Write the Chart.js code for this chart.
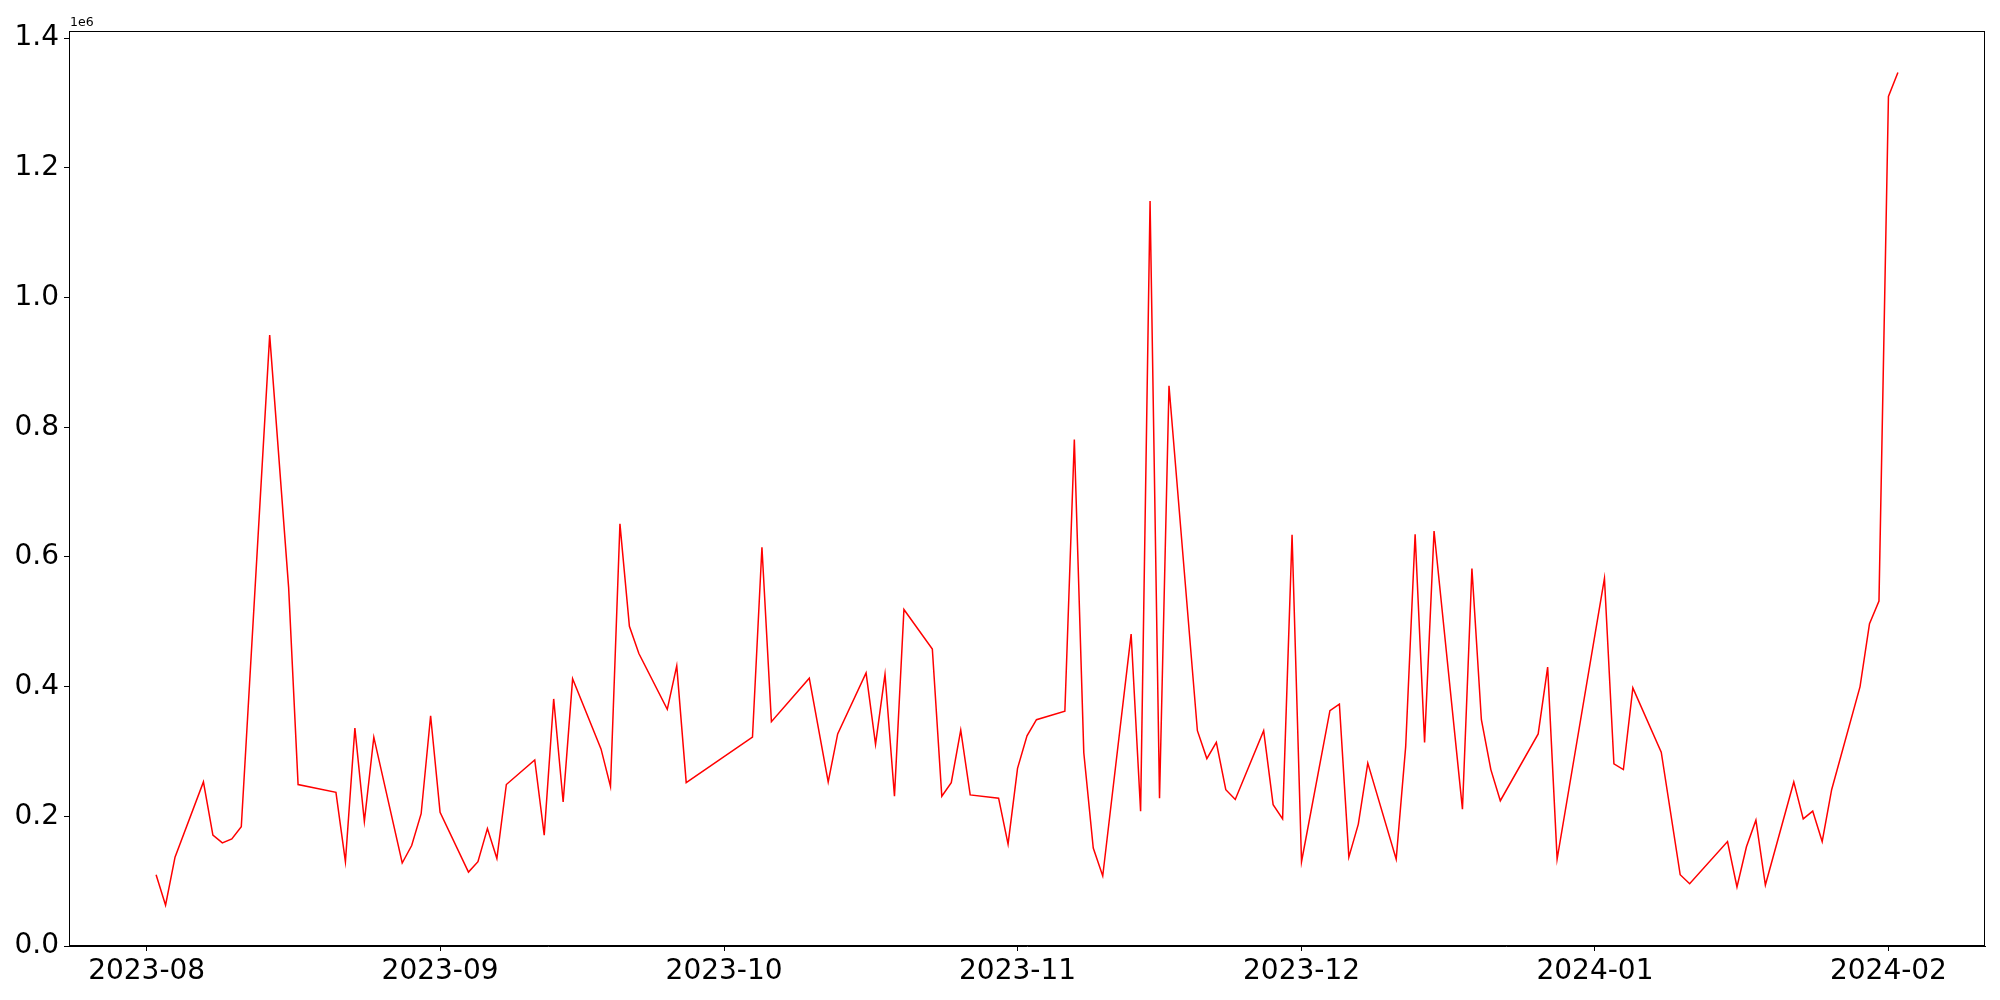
<!DOCTYPE html>
<html>
<head>
<meta charset="utf-8">
<script src="https://cdn.jsdelivr.net/npm/chart.js@4/dist/chart.umd.min.js"></script>
<style>
  html, body { margin: 0; padding: 0; background: #fff; }
</style>
</head>
<body>
<canvas id="myChart" width="2000" height="1000"></canvas>
<script>
// trading days and daily values (raw units, axis shows them x1e6)
var dates = [
  '2023-08-02','2023-08-03','2023-08-04','2023-08-07','2023-08-08','2023-08-09','2023-08-10','2023-08-11',
  '2023-08-14','2023-08-16','2023-08-17','2023-08-21','2023-08-22','2023-08-23','2023-08-24','2023-08-25',
  '2023-08-28','2023-08-29','2023-08-30','2023-08-31',
  '2023-09-01','2023-09-04','2023-09-05','2023-09-06','2023-09-07','2023-09-08','2023-09-11','2023-09-12',
  '2023-09-13','2023-09-14','2023-09-15','2023-09-18','2023-09-19','2023-09-20','2023-09-21','2023-09-22',
  '2023-09-25','2023-09-26','2023-09-27',
  '2023-10-04','2023-10-05','2023-10-06','2023-10-10','2023-10-12','2023-10-13','2023-10-16','2023-10-17',
  '2023-10-18','2023-10-19','2023-10-20','2023-10-23','2023-10-24','2023-10-25','2023-10-26','2023-10-27',
  '2023-10-30','2023-10-31',
  '2023-11-01','2023-11-02','2023-11-03','2023-11-06','2023-11-07','2023-11-08','2023-11-09','2023-11-10',
  '2023-11-13','2023-11-14','2023-11-15','2023-11-16','2023-11-17','2023-11-20','2023-11-21','2023-11-22',
  '2023-11-23','2023-11-24','2023-11-27','2023-11-28','2023-11-29','2023-11-30',
  '2023-12-01','2023-12-04','2023-12-05','2023-12-06','2023-12-07','2023-12-08','2023-12-11','2023-12-12',
  '2023-12-13','2023-12-14','2023-12-15','2023-12-18','2023-12-19','2023-12-20','2023-12-21','2023-12-22',
  '2023-12-26','2023-12-27','2023-12-28',
  '2024-01-02','2024-01-03','2024-01-04','2024-01-05','2024-01-08','2024-01-10','2024-01-11','2024-01-15',
  '2024-01-16','2024-01-17','2024-01-18','2024-01-19','2024-01-22','2024-01-23','2024-01-24','2024-01-25',
  '2024-01-26','2024-01-29','2024-01-30','2024-01-31',
  '2024-02-01','2024-02-02'
];
var values = [
  110000, 63000, 137000, 253000, 171000, 159000, 165000, 184000,
  942000, 553000, 249000, 237000, 130000, 336000, 192000, 322000,
  128000, 155000, 204000, 355000,
  206000, 114000, 130000, 181000, 135000, 249000, 287000, 171000,
  381000, 222000, 412000, 304000, 246000, 651000, 493000, 451000,
  365000, 432000, 252000,
  322000, 615000, 346000, 413000, 253000, 327000, 421000, 311000,
  419000, 231000, 519000, 458000, 231000, 252000, 333000, 233000,
  228000, 157000,
  274000, 324000, 349000, 362000, 781000, 298000, 151000, 108000,
  481000, 208000, 1149000, 228000, 864000, 332000, 289000, 314000,
  241000, 226000, 332000, 218000, 196000, 634000,
  130000, 363000, 373000, 137000, 188000, 282000, 134000, 307000,
  635000, 314000, 640000, 211000, 582000, 349000, 272000, 224000,
  327000, 430000, 134000,
  567000, 281000, 272000, 398000, 299000, 110000, 96000, 161000,
  91000, 153000, 194000, 94000, 253000, 196000, 208000, 161000,
  241000, 400000, 497000, 532000,
  1310000, 1347000
];
var monthTicks = ['2023-08-01','2023-09-01','2023-10-01','2023-11-01','2023-12-01','2024-01-01','2024-02-01'];
var monthLabels = ['2023-08','2023-09','2023-10','2023-11','2023-12','2024-01','2024-02'];
var yTicks = [0, 200000, 400000, 600000, 800000, 1000000, 1200000, 1400000];

var origin = Date.UTC(2023, 7, 1);
function dayNum(s) {
  var p = s.split('-');
  return (Date.UTC(+p[0], +p[1] - 1, +p[2]) - origin) / 86400000;
}

var points = dates.map(function (d, i) { return { x: dayNum(d), y: values[i] }; });
var tickFont = { family: 'DejaVu Sans', size: 28 };

// full box around the plot + the "1e6" offset text
var frame = {
  id: 'frame',
  afterDraw: function (chart) {
    var a = chart.chartArea, ctx = chart.ctx;
    ctx.save();
    ctx.strokeStyle = '#000';
    ctx.lineWidth = 1;
    ctx.strokeRect(Math.round(a.left) + 0.5, Math.round(a.top) + 0.5,
                   Math.round(a.right - a.left) - 1, Math.round(a.bottom - a.top) - 1);
    ctx.fillStyle = '#000';
    ctx.font = '12.5px "DejaVu Sans"';
    ctx.textAlign = 'left';
    ctx.textBaseline = 'alphabetic';
    ctx.fillText('1e6', a.left + 1, a.top - 5);
    ctx.restore();
  }
};

var ctx = document.getElementById('myChart');
var myChart = new Chart(ctx, {
  type: 'line',
  data: {
    datasets: [{
      data: points,
      fill: false,
      tension: 0,
      borderColor: '#ff0000',
      borderWidth: 1.5,
      pointRadius: 0
    }]
  },
  options: {
    animation: false,
    responsive: false,
    layout: { padding: { top: 31, right: 15, left: 0, bottom: 0 } },
    plugins: {
      legend: { display: false },
      tooltip: { enabled: false }
    },
    scales: {
      x: {
        type: 'linear',
        min: -8.2,
        max: 194.2,
        afterBuildTicks: function (scale) {
          scale.ticks = monthTicks.map(function (d) { return { value: dayNum(d) }; });
        },
        afterFit: function (scale) { scale.height = 54; },
        ticks: {
          autoSkip: false,
          maxRotation: 0,
          padding: 4,
          color: '#000',
          font: tickFont,
          callback: function (v, i) { return monthLabels[i]; }
        },
        grid: { drawOnChartArea: false, tickLength: 5, color: '#000' },
        border: { color: '#000', width: 1 }
      },
      y: {
        min: 0,
        max: 1411000,
        afterBuildTicks: function (scale) {
          scale.ticks = yTicks.map(function (v) { return { value: v }; });
        },
        afterFit: function (scale) { scale.width = 69; },
        ticks: {
          padding: 5,
          color: '#000',
          font: tickFont,
          callback: function (v) { return (v / 1e6).toFixed(1); }
        },
        grid: { drawOnChartArea: false, tickLength: 5, color: '#000' },
        border: { color: '#000', width: 1 }
      }
    }
  },
  plugins: [frame]
});
</script>
</body>
</html>
